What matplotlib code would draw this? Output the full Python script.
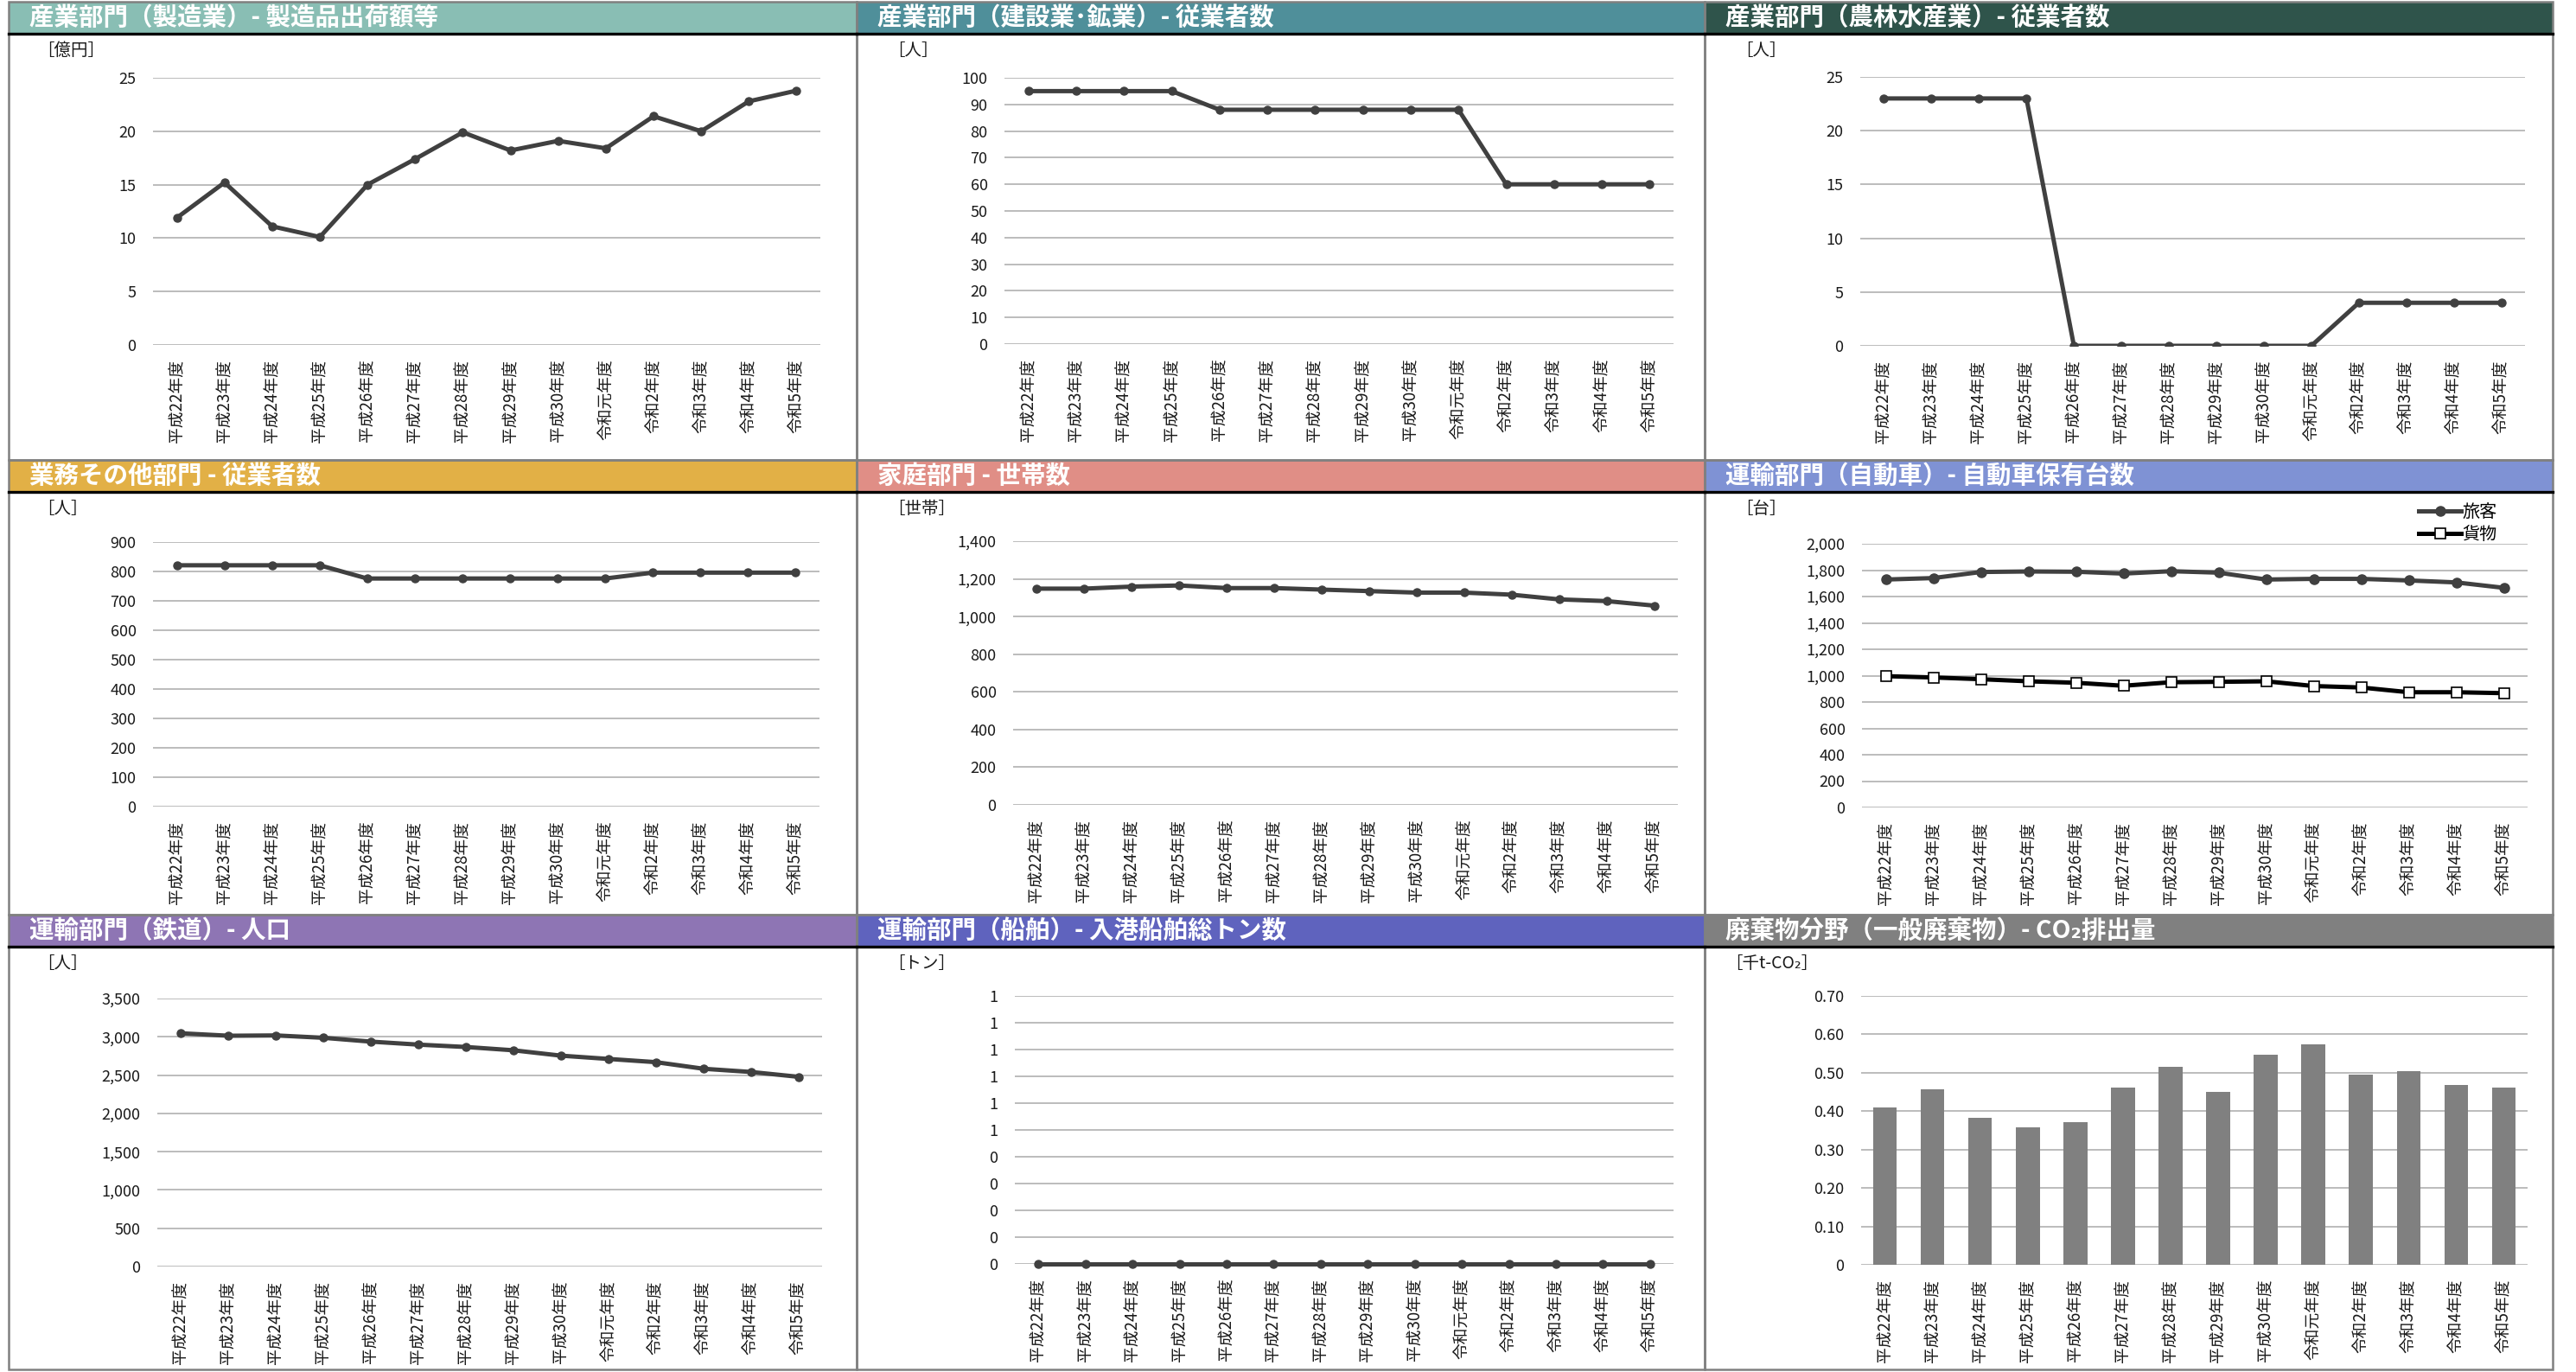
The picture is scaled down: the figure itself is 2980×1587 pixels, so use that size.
import math
import numpy as np
import matplotlib
matplotlib.use("Agg")
import matplotlib.pyplot as plt
from matplotlib.patches import Rectangle
from matplotlib.lines import Line2D
from matplotlib.ticker import FuncFormatter

plt.rcParams['font.family'] = ['Noto Sans CJK JP', 'DejaVu Sans']

# x categories (fiscal years)
years = ['平成22年度', '平成23年度', '平成24年度', '平成25年度', '平成26年度',
         '平成27年度', '平成28年度', '平成29年度', '平成30年度', '令和元年度',
         '令和2年度', '令和3年度', '令和4年度', '令和5年度']

# series values
mfg_shipments = [11.9, 15.2, 11.1, 10.1, 15.0, 17.4, 19.9, 18.2, 19.1, 18.4, 21.4, 20.0, 22.8, 23.8]
construction_workers = [95, 95, 95, 95, 88, 88, 88, 88, 88, 88, 60, 60, 60, 60]
agri_workers = [23, 23, 23, 23, 0, 0, 0, 0, 0, 0, 4, 4, 4, 4]
business_workers = [821, 821, 821, 821, 776, 776, 776, 776, 776, 776, 796, 796, 796, 796]
households = [1148, 1148, 1159, 1165, 1151, 1151, 1143, 1135, 1127, 1127, 1116, 1091, 1082, 1058]
cars_passenger = [1729, 1740, 1786, 1790, 1788, 1774, 1792, 1781, 1729, 1734, 1734, 1722, 1707, 1666]
cars_freight = [996, 986, 973, 957, 946, 923, 950, 953, 957, 921, 910, 874, 874, 867]
rail_population = [3046, 3014, 3018, 2987, 2937, 2898, 2867, 2824, 2754, 2711, 2669, 2583, 2541, 2478]
ship_tonnage = [0, 0, 0, 0, 0, 0, 0, 0, 0, 0, 0, 0, 0, 0]
waste_co2 = [0.410, 0.457, 0.383, 0.359, 0.372, 0.462, 0.515, 0.451, 0.548, 0.575, 0.496, 0.504, 0.468, 0.462]

titles = ['産業部門（製造業）- 製造品出荷額等', '産業部門（建設業･鉱業）- 従業者数',
          '産業部門（農林水産業）- 従業者数', '業務その他部門 - 従業者数', '家庭部門 - 世帯数',
          '運輸部門（自動車）- 自動車保有台数', '運輸部門（鉄道）- 人口',
          '運輸部門（船舶）- 入港船舶総トン数', '廃棄物分野（一般廃棄物）- CO₂排出量']
units = ['［億円］', '［人］', '［人］', '［人］', '［世帯］', '［台］', '［人］', '［トン］', '［千t-CO₂］']
header_colors = ['#89beb4', '#4f8f9a', '#2f544b', '#e2b046', '#e08e86', '#7f92d4', '#8e75b4', '#5f63be', '#808080']

W, H = 2980, 1587
fig = plt.figure(figsize=(W / 100, H / 100), dpi=100)
fig.patch.set_facecolor('white')

col_x = [10, 991, 1972, 2953]
row_y = [2, 532, 1058, 1584]
# plot area boxes in pixels (x0, y0, x1, y1)
boxes = [(177, 90, 949, 399), (1162, 90, 1936, 398), (2152, 89, 2921, 400),
         (177, 627, 948, 933), (1172, 626, 1941, 931), (2154, 629, 2924, 934),
         (182, 1155, 951, 1465), (1174, 1152, 1936, 1462), (2153, 1152, 2924, 1463)]

LINE = '#404040'
GRID = '#bcbcbc'


def fx(x):
    return x / W


def fy(y):
    return 1 - y / H


def add_axes(box):
    x0, y0, x1, y1 = box
    return fig.add_axes([fx(x0), fy(y1), (x1 - x0) / W, (y1 - y0) / H])


def style(ax, top, step, fmt):
    ax.set_xlim(-0.5, 13.5)
    ax.set_ylim(0, top)
    ax.set_yticks(np.arange(0, top + step / 2, step))
    ax.yaxis.set_major_formatter(FuncFormatter(fmt))
    ax.set_xticks(range(len(years)))
    ax.set_xticklabels(years, rotation=90, fontsize=13.5, va='top', ha='center')
    ax.tick_params(axis='both', length=0, colors='#1a1a1a')
    ax.tick_params(axis='y', labelsize=13, pad=14)
    ax.tick_params(axis='x', pad=12)
    for s in ax.spines.values():
        s.set_visible(False)
    ax.grid(axis='y', color=GRID, lw=1.4)
    ax.set_axisbelow(True)
    ax.patch.set_alpha(0)


def plain(v, p):
    return f'{v:.0f}'


def comma(v, p):
    return f'{v:,.0f}'


def rounded(v, p):
    return str(int(math.floor(v + 0.5 + 1e-9)))


def twodec(v, p):
    return '0' if abs(v) < 1e-9 else f'{v:.2f}'


# panel frames and headers
for i in range(9):
    r, c = divmod(i, 3)
    x0, x1 = col_x[c], col_x[c + 1]
    y0, y1 = row_y[r], row_y[r + 1]
    fig.add_artist(Rectangle((fx(x0), fy(y0 + 36)), (x1 - x0) / W, 36 / H,
                             transform=fig.transFigure, facecolor=header_colors[i],
                             edgecolor='none', zorder=1))
    fig.add_artist(Rectangle((fx(x0), fy(y1)), (x1 - x0) / W, (y1 - y0) / H,
                             transform=fig.transFigure, facecolor='none',
                             edgecolor='#808080', lw=1.8, zorder=2))
    fig.add_artist(Line2D([fx(x0), fx(x1)], [fy(y0 + 37), fy(y0 + 37)],
                          transform=fig.transFigure, color='black', lw=2.4, zorder=3))
    fig.text(fx(x0 + 24), fy(y0 + 19), titles[i], color='white', fontsize=20.5,
             fontweight='bold', va='center', ha='left', zorder=4)
    ux = x0 + (33 if c == 0 else 36) if i != 8 else x0 + 24
    fig.text(fx(ux), fy(y0 + 56), units[i], color='#1a1a1a', fontsize=14,
             va='center', ha='left')

x = np.arange(len(years))
mk = dict(marker='o', markersize=6.5, lw=3.6, color=LINE)

# 1 manufacturing
ax = add_axes(boxes[0])
ax.plot(x, mfg_shipments, **mk)
style(ax, 25, 5, plain)

# 2 construction / mining
ax = add_axes(boxes[1])
ax.plot(x, construction_workers, **mk)
style(ax, 100, 10, plain)

# 3 agriculture
ax = add_axes(boxes[2])
ax.plot(x, agri_workers, **mk)
style(ax, 25, 5, plain)

# 4 business
ax = add_axes(boxes[3])
ax.plot(x, business_workers, **mk)
style(ax, 900, 100, plain)

# 5 households
ax = add_axes(boxes[4])
ax.plot(x, households, **mk)
style(ax, 1400, 200, comma)

# 6 cars
ax = add_axes(boxes[5])
ax.plot(x, cars_passenger, marker='o', markersize=8, lw=3.6, color=LINE, label='旅客')
ax.plot(x, cars_freight, marker='s', markersize=8, lw=3.6, color='black',
        markerfacecolor='white', markeredgecolor='black', markeredgewidth=1.2, label='貨物')
style(ax, 2000, 200, comma)
ax.legend(loc='upper right', bbox_to_anchor=(0.965, 1.18), frameon=False, fontsize=14.5,
          handlelength=2.4, handletextpad=0.1, labelspacing=0.25, borderaxespad=0)

# 7 railway
ax = add_axes(boxes[6])
ax.plot(x, rail_population, **mk)
style(ax, 3500, 500, comma)

# 8 shipping
ax = add_axes(boxes[7])
ax.plot(x, ship_tonnage, clip_on=False, zorder=5, **mk)
style(ax, 1.0, 0.1, rounded)

# 9 waste
ax = add_axes(boxes[8])
ax.bar(x, waste_co2, width=0.5, color='#808080', zorder=3)
style(ax, 0.7, 0.1, twodec)

fig.savefig('out.png', dpi=100, facecolor='white')
